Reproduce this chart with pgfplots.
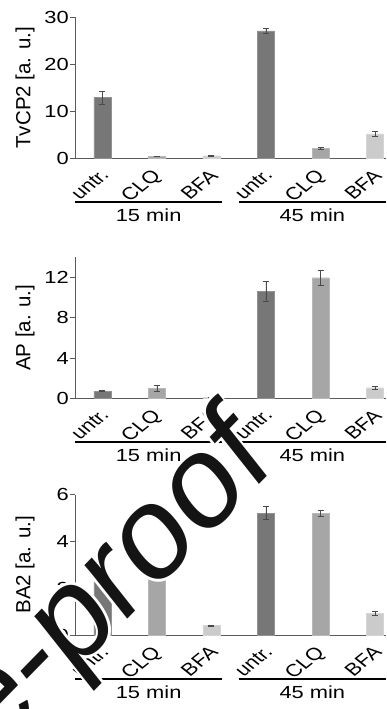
\documentclass[border=0pt]{standalone}
\usepackage{pgfplots}
\pgfplotsset{compat=1.18}
\usepackage{fontspec}
\setmainfont{Liberation Sans}
\usepackage{graphicx}

\definecolor{cU}{HTML}{777777}
\definecolor{cC}{HTML}{A6A6A6}
\definecolor{cB}{HTML}{CBCBCB}
\definecolor{axc}{HTML}{5A5A5A}
\definecolor{errc}{HTML}{4A4A4A}

\newcommand{\lab}[1]{\scalebox{1.25}[1]{\rotatebox{45}{#1}}}
\newcommand{\hs}[1]{\scalebox{1.25}[1]{#1}}

\pgfplotsset{
 panel/.style={
  scale only axis, width=311pt,
  xmin=-0.5, xmax=5.2, ymin=0,
  axis x line=bottom, axis y line=left,
  axis line style={-, axc, line width=0.7pt},
  xtick={0,...,5},
  xticklabels={\lab{untr.},\lab{CLQ},\lab{BFA},\lab{untr.},\lab{CLQ},\lab{BFA}},
  xtick style={draw=none},
  xticklabel style={anchor=north east, inner sep=0pt, xshift=8pt, yshift=-5pt},
  tick align=outside, major tick length=5pt,
  ytick style={axc, line width=0.7pt},
  yticklabel={\hs{\pgfmathprintnumber{\tick}}},
  yticklabel style={inner sep=0pt, xshift=-1pt},
  tick label style={font=\fontsize{17.5}{20}\selectfont},
  /pgf/number format/assume math mode=true,
  ylabel style={font=\fontsize{20.5}{24}\selectfont, at={(rel axis cs:0,0.5)}, yshift=50pt, anchor=center},
  clip=false,
  ybar, bar width=17pt,
  anchor=south west,
 },
 ebar/.style={bar shift=0pt, line width=0.4pt,
   /pgfplots/error bars/y dir=both, /pgfplots/error bars/y explicit,
   /pgfplots/error bars/error bar style={errc, line width=0.6pt},
   /pgfplots/error bars/error mark options={errc, rotate=90, mark size=3pt, line width=0.6pt}},
}

% TvCP2
\pgfplotstableread{
x y e
0 12.9 1.35
3 27.1 0.55
}\tvU
\pgfplotstableread{
x y e
1 0.45 0.08
4 2.15 0.15
}\tvC
\pgfplotstableread{
x y e
2 0.55 0.08
5 5.2 0.5
}\tvB
% AP
\pgfplotstableread{
x y e
0 0.72 0.04
3 10.65 1.0
}\apU
\pgfplotstableread{
x y e
1 1.0 0.26
4 11.97 0.72
}\apC
\pgfplotstableread{
x y e
2 0.08 0.04
5 1.05 0.15
}\apB
% BA2
\pgfplotstableread{
x y e
0 2.5 0.25
3 5.2 0.28
}\baU
\pgfplotstableread{
x y e
1 2.89 0.09
4 5.2 0.12
}\baC
\pgfplotstableread{
x y e
2 0.4 0.03
5 0.93 0.1
}\baB

\newcommand{\groups}{%
  \draw[line width=1.8pt] ([yshift=-44pt]axis cs:-0.5,0) -- ([yshift=-44pt]axis cs:2.2,0);
  \draw[line width=1.8pt] ([yshift=-44pt]axis cs:2.5,0) -- ([yshift=-44pt]axis cs:5.2,0);
  \node[font=\fontsize{17.5}{20}\selectfont] at ([yshift=-57pt]axis cs:0.85,0) {\hs{15 min}};
  \node[font=\fontsize{17.5}{20}\selectfont] at ([yshift=-57pt]axis cs:3.85,0) {\hs{45 min}};
}

\begin{document}
\begin{tikzpicture}
\useasboundingbox (0,0) rectangle (386pt,709pt);

\begin{axis}[panel, at={(75pt,550.7pt)}, height=141pt, ymax=30, ytick={0,10,20,30}, ylabel={TvCP2 [a. u.]}]
\addplot[fill=cU, draw=cU!80!white, ebar] table[x=x,y=y,y error=e] {\tvU};
\addplot[fill=cC, draw=cC!80!white, ebar] table[x=x,y=y,y error=e] {\tvC};
\addplot[fill=cB, draw=cB!80!white, ebar] table[x=x,y=y,y error=e] {\tvB};
\groups
\end{axis}

\begin{axis}[panel, at={(75pt,310.7pt)}, height=141pt, ymax=14, ytick={0,4,8,12}, ylabel={AP [a. u.]}]
\addplot[fill=cU, draw=cU!80!white, ebar] table[x=x,y=y,y error=e] {\apU};
\addplot[fill=cC, draw=cC!80!white, ebar] table[x=x,y=y,y error=e] {\apC};
\addplot[fill=cB, draw=cB!80!white, ebar] table[x=x,y=y,y error=e] {\apB};
\groups
\end{axis}

\begin{axis}[panel, at={(75pt,74pt)}, height=140.5pt, ymax=6, ytick={0,2,4,6}, ylabel={BA2 [a. u.]}]
\addplot[fill=cU, draw=cU!80!white, ebar] table[x=x,y=y,y error=e] {\baU};
\addplot[fill=cC, draw=cC!80!white, ebar] table[x=x,y=y,y error=e] {\baC};
\addplot[fill=cB, draw=cB!80!white, ebar] table[x=x,y=y,y error=e] {\baB};
\groups
\end{axis}

% watermark
\begin{scope}[xscale=0.88, transform shape]
\foreach \dx/\dy in {2.8/0, -2.8/0, 0/2.8, 0/-2.8, 2/2, -2/2, 2/-2, -2/-2} {
  \node[rotate=42, anchor=base east, inner sep=0pt, text=white, font=\fontsize{137}{137}\selectfont]
    at (314pt+\dx pt, 242pt+\dy pt) {Journal Pre-proof};
}
\node[rotate=42, anchor=base east, inner sep=0pt, text=black!92, font=\fontsize{137}{137}\selectfont]
  at (314pt, 242pt) {Journal Pre-proof};
\end{scope}
\end{tikzpicture}
\end{document}
